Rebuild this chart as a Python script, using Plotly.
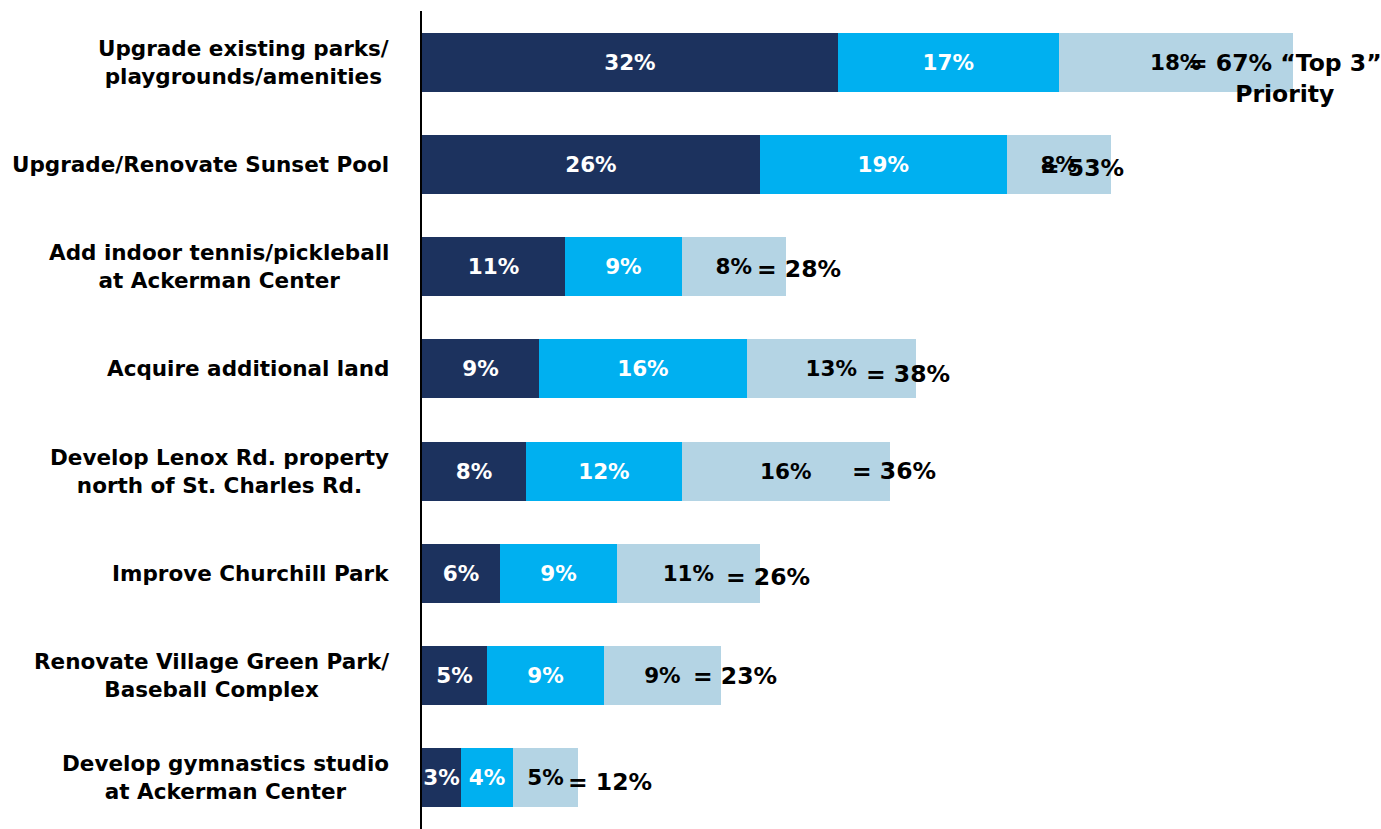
import plotly.graph_objects as go

categories = [
    "Upgrade existing parks/<br>playgrounds/amenities",
    "Upgrade/Renovate Sunset Pool",
    "Add indoor tennis/pickleball<br>at Ackerman Center",
    "Acquire additional land",
    "Develop Lenox Rd. property<br>north of St. Charles Rd.",
    "Improve Churchill Park",
    "Renovate Village Green Park/<br>Baseball Complex",
    "Develop gymnastics studio<br>at Ackerman Center",
]
first_priority = [32, 26, 11, 9, 8, 6, 5, 3]
second_priority = [17, 19, 9, 16, 12, 9, 9, 4]
third_priority = [18, 8, 8, 13, 16, 11, 9, 5]
totals = [a + b + c for a, b, c in zip(first_priority, second_priority, third_priority)]
total_suffix = [" \u201cTop 3\u201d<br>Priority", "", "", "", "", "", "", ""]

# layout positions (label centers in axis units) for total labels
total_label_x = [66.4, 50.8, 29.0, 37.4, 36.3, 26.6, 24.1, 14.5]
total_label_yshift = [-16, -4, -2, -5, 0, -4, 0, -4]

FONT = "DejaVu Sans"
colors = ["#1C325E", "#00B0F0", "#B4D4E4"]
text_colors = ["white", "white", "black"]

fig = go.Figure()
for vals, col, tcol in zip([first_priority, second_priority, third_priority], colors, text_colors):
    fig.add_trace(go.Bar(
        y=categories, x=vals, orientation="h",
        marker=dict(color=col, line=dict(width=0)),
        text=[f"{v}%" for v in vals],
        textposition="inside", insidetextanchor="middle",
        textangle=0, constraintext="none",
        textfont=dict(family=FONT, size=21.5, color=tcol, weight="bold"),
        hoverinfo="skip",
    ))

annotations = []
for cat in categories:
    annotations.append(dict(
        x=0, xref="paper", y=cat, yref="y", text=cat,
        xanchor="right", yanchor="middle", align="center", xshift=-31,
        showarrow=False,
        font=dict(family=FONT, size=21.5, color="black", weight="bold"),
    ))
for cat, tot, suf, lx, ys in zip(categories, totals, total_suffix, total_label_x, total_label_yshift):
    annotations.append(dict(
        x=lx, xref="x", y=cat, yref="y", text=f"= {tot}%{suf}",
        xanchor="center", yanchor="middle", align="center", yshift=ys,
        showarrow=False,
        font=dict(family=FONT, size=23.5, color="black", weight="bold"),
    ))

fig.update_layout(
    width=1381, height=829,
    barmode="stack", bargap=0.424,
    showlegend=False,
    plot_bgcolor="white", paper_bgcolor="white",
    margin=dict(l=422, r=0, t=11, b=0),
    xaxis=dict(range=[0, 73.8], visible=False, fixedrange=True),
    yaxis=dict(autorange="reversed", showticklabels=False, ticks="",
               showline=True, linecolor="black", linewidth=2,
               showgrid=False, zeroline=False, fixedrange=True),
    annotations=annotations,
)

fig.write_html("out.html", config={"displayModeBar": False},
               post_script="document.body.style.margin='0';")
